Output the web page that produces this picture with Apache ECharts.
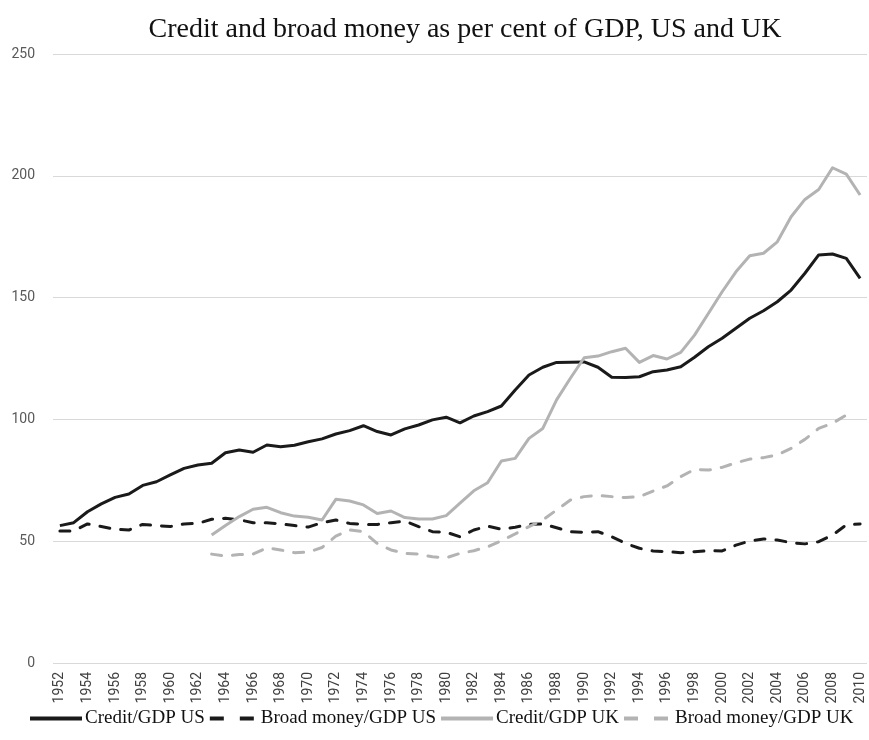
<!DOCTYPE html>
<html>
<head>
<meta charset="utf-8">
<script src="https://cdn.jsdelivr.net/npm/echarts@6/dist/echarts.min.js"></script>
<style>
html,body{margin:0;padding:0;background:#fff;}
#chart{width:869px;height:740px;}
</style>
</head>
<body>
<div id="chart"></div>
<script>
var years = [];
for (var y = 1952; y <= 2010; y++) years.push(String(y));

var creditUS = [56.4, 57.6, 62.1, 65.3, 68.0, 69.4, 72.9, 74.4, 77.2, 79.9, 81.3, 82.0, 86.3, 87.4, 86.5, 89.5, 88.8, 89.4, 90.8, 92.0,
  94.0, 95.4, 97.4, 95.0, 93.6, 96.1, 97.7, 99.8, 100.9, 98.6, 101.4, 103.2, 105.5, 112.1, 118.2, 121.4, 123.4, 123.5, 123.6, 121.4,
  117.3, 117.2, 117.5, 119.6, 120.3, 121.6, 125.5, 129.8, 133.3, 137.4, 141.5, 144.6, 148.3, 153.1, 160.0, 167.5, 167.9, 166.1, 157.9];

var broadUS = [54.2, 54.2, 57.1, 56.0, 54.9, 54.6, 56.9, 56.4, 56.0, 57.1, 57.3, 59.0, 59.4, 58.8, 57.6, 57.6, 57.1, 56.4, 55.8, 57.6,
  58.7, 57.3, 56.9, 56.9, 57.6, 58.3, 56.0, 53.9, 53.7, 51.8, 54.6, 56.2, 54.9, 55.7, 56.9, 57.1, 55.5, 53.9, 53.6, 53.9,
  51.8, 49.1, 47.1, 46.0, 45.7, 45.3, 45.7, 46.1, 46.0, 48.4, 50.1, 50.9, 50.5, 49.4, 48.9, 49.8, 52.5, 56.7, 57.1];

var creditUK = [null, null, null, null, null, null, null, null, null, null, null,
  52.5, 56.4, 60.1, 63.1, 63.9, 61.7, 60.3, 59.8, 58.7, 67.2, 66.5, 64.9, 61.4, 62.4, 59.7, 59.1, 59.1, 60.5, 65.6,
  70.7, 74.0, 82.9, 84.0, 92.2, 96.3, 108.0, 116.9, 125.3, 126.0, 127.8, 129.2, 123.4, 126.2, 124.8, 127.5, 134.6, 143.5,
  152.4, 160.6, 167.2, 168.2, 172.9, 183.2, 190.3, 194.4, 203.3, 200.7, 192.1];

var broadUK = [null, null, null, null, null, null, null, null, null, null, null,
  44.7, 43.9, 44.5, 44.7, 47.3, 46.4, 45.3, 45.5, 47.4, 52.1, 54.6, 53.9, 49.1, 46.4, 45.0, 44.7, 43.6, 43.2, 45.0,
  46.1, 47.7, 50.2, 53.0, 56.0, 58.7, 62.8, 66.9, 68.3, 68.8, 68.3, 67.9, 68.3, 70.6, 72.7, 76.5, 79.5, 79.2,
  80.3, 82.2, 83.7, 84.3, 85.4, 88.1, 91.8, 96.3, 98.4, 101.8, null];

var seriesNames = ['Credit/GDP US', 'Broad money/GDP US', 'Credit/GDP UK', 'Broad money/GDP UK'];

var BLACK = '#1a1a1a', GREY = '#b3b3b3';
var SOLID_ICON = 'rect';
var DASH_ICON = 'path://M0,0h14v4h-14z M30,0h14v4h-14z';
function mk(name, data, color, dashed) {
  return {
    name: name, type: 'line', data: data, showSymbol: false, symbol: 'none',
    connectNulls: false, animation: false,
    itemStyle: { color: color },
    lineStyle: { color: color, width: 3, type: dashed ? [10, 11] : 'solid', cap: dashed ? 'round' : 'butt', join: 'round' }
  };
}

var chart = echarts.init(document.getElementById('chart'), null, { renderer: 'canvas' });
chart.setOption({
  animation: false,
  backgroundColor: '#fff',
  title: {
    text: 'Credit and broad money as per cent of GDP, US and UK',
    left: 460, top: 11, textAlign: 'center',
    textStyle: { fontFamily: 'Liberation Serif', fontSize: 28, fontWeight: 'normal', color: '#111' }
  },
  legend: {
    data: [
      { name: seriesNames[0], icon: SOLID_ICON },
      { name: seriesNames[1], icon: DASH_ICON },
      { name: seriesNames[2], icon: SOLID_ICON },
      { name: seriesNames[3], icon: DASH_ICON }
    ],
    bottom: 7, left: 25,
    itemWidth: 52, itemHeight: 4, itemGap: 5,
    textStyle: { fontFamily: 'Liberation Serif', fontSize: 19, color: '#111', padding: [0, 0, 0, -2] }
  },
  grid: { left: 53, right: 2, top: 54, bottom: 77, containLabel: false },
  xAxis: {
    type: 'category', data: years, boundaryGap: true,
    axisLine: { show: false }, axisTick: { show: false },
    axisLabel: { interval: 1, rotate: 90, margin: 9, fontFamily: 'Roboto', fontSize: 14, color: '#404040' }
  },
  yAxis: {
    type: 'value', min: 0, max: 250, interval: 50,
    axisLine: { show: false }, axisTick: { show: false },
    axisLabel: { margin: 18, fontFamily: 'Roboto', fontSize: 14, color: '#595959' },
    splitLine: { lineStyle: { color: '#d9d9d9', width: 1 } }
  },
  series: [
    mk(seriesNames[0], creditUS, BLACK, false),
    mk(seriesNames[1], broadUS, BLACK, true),
    mk(seriesNames[2], creditUK, GREY, false),
    mk(seriesNames[3], broadUK, GREY, true)
  ]
});
</script>
</body>
</html>
